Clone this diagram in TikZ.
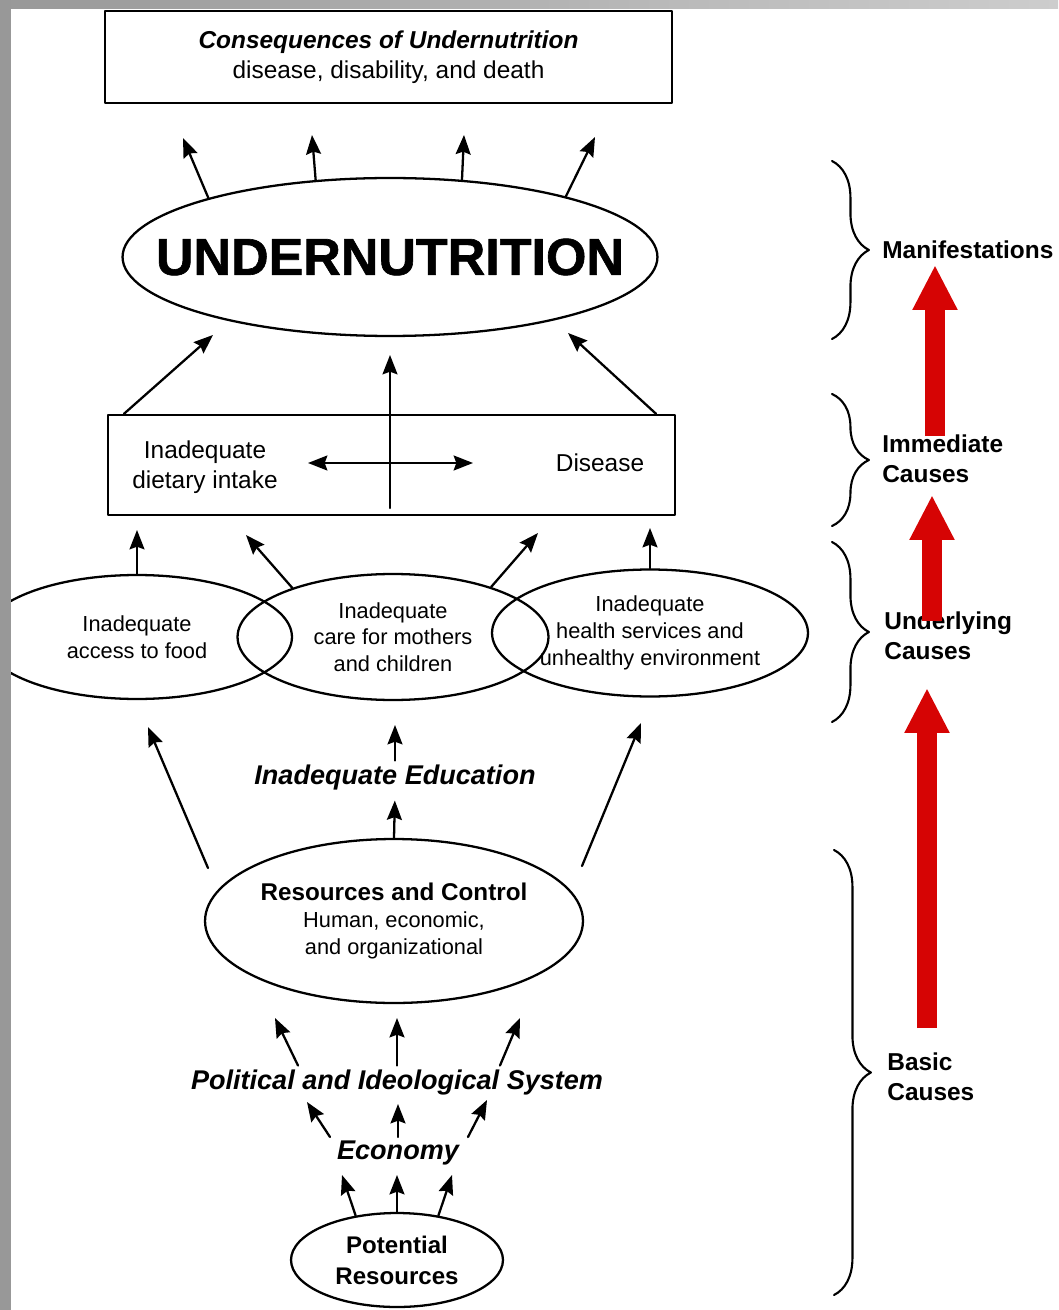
\documentclass[tikz,border=0pt]{standalone}
\usepackage{fontspec}
\setmainfont{Liberation Sans}
\newfontfamily\heavyfont{Liberation Sans Bold}[FakeBold=1.2]
\usetikzlibrary{arrows.meta,shapes.geometric,decorations.pathreplacing}
\definecolor{causered}{RGB}{214,4,4}
\definecolor{framegray}{RGB}{152,152,152}
\definecolor{framelight}{RGB}{205,205,205}

\begin{document}
\begin{tikzpicture}[x=0.02cm,y=-0.02cm,line cap=round,line join=round,
  arr/.style={-{Stealth[length=11pt,width=8.5pt,inset=1.5pt]},line width=1.3pt},
  dbl/.style={{Stealth[length=11pt,width=8.5pt,inset=1.5pt]}-{Stealth[length=11pt,width=8.5pt,inset=1.5pt]},line width=1.3pt},
  oval/.style={ellipse,draw,line width=1.3pt,inner sep=0pt,align=center},
  frame/.style={rectangle,draw,line width=1.3pt,inner sep=0pt},
  bigtxt/.style={font=\fontsize{13.9}{17}\selectfont,align=center},
  smalltxt/.style={font=\fontsize{12.4}{15.2}\selectfont},
  italhead/.style={font=\fontsize{15.4}{18}\selectfont\bfseries\itshape,inner sep=2pt},
  sidelabel/.style={font=\fontsize{13.9}{17}\selectfont\bfseries,align=left,anchor=west,inner sep=0pt},
  bracket/.style={decorate,decoration={brace,amplitude=21pt},line width=1.2pt},
  redarr/.style={-{Triangle[length=0.9cm,width=0.84cm]},causered,line width=0.4cm,line cap=butt}]
\useasboundingbox (0,0) rectangle (1058,1310);

% main chain
\node[frame,minimum width=11.34cm,minimum height=1.84cm,bigtxt] (conseq) at (388.5,57) {\textbf{\textit{Consequences of Undernutrition}}\\disease, disability, and death};
\node[oval,minimum width=10.7cm,minimum height=3.16cm] (undernut) at (390,257) {};
\node[font=\fontsize{29.6}{32}\selectfont\heavyfont] (undertxt) at (undernut.center) {UNDERNUTRITION};
\node[frame,minimum width=11.34cm,minimum height=2cm] (imm) at (391.5,465) {};
\node[bigtxt] (diet) at (205,467) {Inadequate\\dietary intake};
\node[bigtxt] (dis) at (600,463) {Disease};
\node[oval,minimum width=6.2cm,minimum height=2.48cm,smalltxt] (food) at (137,637) {Inadequate\\access to food};
\node[oval,minimum width=6.22cm,minimum height=2.52cm,smalltxt] (care) at (393,637) {Inadequate\\care for mothers\\and children};
\node[oval,minimum width=6.32cm,minimum height=2.54cm,smalltxt] (health) at (650,633) {Inadequate\\health services and\\unhealthy environment};
\node[italhead] (educ) at (395,777) {Inadequate Education};
\node[oval,minimum width=7.56cm,minimum height=3.28cm,smalltxt] (res) at (394,921) {{\fontsize{13.8}{15}\selectfont\bfseries Resources and Control}\\Human, economic,\\and organizational};
\node[italhead] (pol) at (397,1082) {Political and Ideological System};
\node[italhead] (econ) at (398,1153) {Economy};
\node[oval,minimum width=4.24cm,minimum height=1.88cm,font=\fontsize{13.7}{17.6}\selectfont\bfseries] (pot) at (397,1260) {Potential\\Resources};

% free arrow ends
\coordinate (t1) at (183,138);
\coordinate (t2) at (312,135);
\coordinate (t3) at (464,135);
\coordinate (t4) at (595,137);
\coordinate (u1) at (213,335);
\coordinate (u2) at (568,333);
\coordinate (u3) at (390,355);
\coordinate (u3b) at (390,508);
\coordinate (dl) at (308,463);
\coordinate (dr) at (473,463);
\coordinate (i1) at (137,530);
\coordinate (i2) at (246,535);
\coordinate (i3) at (538,533);
\coordinate (i4) at (650,528);
\coordinate (r1a) at (208,868);
\coordinate (r1b) at (148,727);
\coordinate (r2a) at (582,866);
\coordinate (r2b) at (641,723);
\coordinate (e1) at (395,725);
\coordinate (p1) at (275,1018);
\coordinate (p2) at (397,1018);
\coordinate (p3) at (520,1018);
\coordinate (q1) at (307,1102);
\coordinate (q2) at (398,1104);
\coordinate (q3) at (487,1100);
\coordinate (k1) at (342,1175);
\coordinate (k2) at (397,1175);
\coordinate (k3) at (452,1175);

\draw[arr] (undernut.162) -- (t1);
\draw[arr] (undernut.134) -- (t2);
\draw[arr] (undernut.47) -- (t3);
\draw[arr] (undernut.19) -- (t4);
\draw[arr] ([xshift=0.34cm]imm.north west) -- (u1);
\draw[arr] ([xshift=-0.4cm]imm.north east) -- (u2);
\draw[arr] (u3b) -- (u3);
\draw[dbl] (dl) -- (dr);
\draw[arr] (food.north) -- (i1);
\draw[arr] (care.154) -- (i2);
\draw[arr] (care.27) -- (i3);
\draw[arr] (health.north) -- (i4);
\draw[arr] (r1a) -- (r1b);
\draw[arr] (r2a) -- (r2b);
\draw[arr,shorten >=4pt] (res.north) -- (educ.south);
\draw[arr] (educ.north) -- (e1);
\draw[arr] ([xshift=-1.98cm]pol.north) -- (p1);
\draw[arr] (pol.north) -- (p2);
\draw[arr] ([xshift=2.06cm]pol.north) -- (p3);
\draw[arr] ([xshift=-1.36cm]econ.north) -- (q1);
\draw[arr] (econ.north) -- (q2);
\draw[arr] ([xshift=1.4cm]econ.north) -- (q3);
\draw[arr] (pot.133) -- (k1);
\draw[arr] (pot.north) -- (k2);
\draw[arr] (pot.47) -- (k3);

% levels on the right
\draw[bracket] (832,161) -- (832,339);
\draw[bracket] (832,394) -- (832,526);
\draw[bracket] (832,542) -- (832,722);
\draw[bracket] (834,850) -- (834,1295);
\node[sidelabel] (manif) at (882,250) {Manifestations};
\node[sidelabel] (immlab) at (882,459) {Immediate\\Causes};
\node[sidelabel] (undlab) at (884,636) {Underlying\\Causes};
\node[sidelabel] (baslab) at (887,1077) {Basic\\Causes};
\coordinate (m1a) at (935,436);
\coordinate (m1b) at (935,265);
\coordinate (m2a) at (932,621);
\coordinate (m2b) at (932,495);
\coordinate (m3a) at (927,1028);
\coordinate (m3b) at (927,688);
\draw[redarr] (m1a) -- (m1b);
\draw[redarr] (m2a) -- (m2b);
\draw[redarr] (m3a) -- (m3b);

% slide frame
\shade[left color=framegray,right color=framelight] (0,0) rectangle (1058,9);
\fill[framegray] (0,0) rectangle (11,1310);
\end{tikzpicture}
\end{document}
